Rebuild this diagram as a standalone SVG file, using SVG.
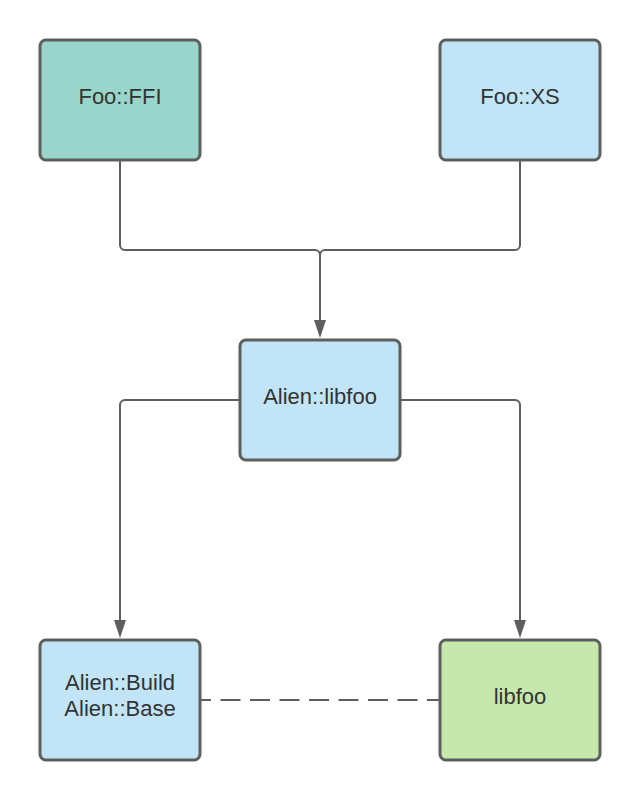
<svg xmlns="http://www.w3.org/2000/svg" width="640" height="800" viewBox="0 0 640 800">
<defs>
<style>
.box{stroke:#5e5e5e;stroke-width:3}
.lbl{font-family:"Liberation Sans",Arial,sans-serif;font-size:22px;fill:#333333;text-anchor:middle}
.ln{fill:none;stroke:#5e5e5e;stroke-width:2}
.ah{fill:#5e5e5e}
</style>
</defs>
<rect width="640" height="800" fill="#ffffff"/>
<g id="connectors">
<path class="ln" d="M120,160 V245 A5,5 0 0 0 125,250 H315 A5,5 0 0 1 320,255"/>
<path class="ln" d="M520,160 V245 A5,5 0 0 1 515,250 H325 A5,5 0 0 0 320,255"/>
<path class="ln" d="M320,255 V322"/>
<polygon class="ah" points="314,320 326,320 320,338"/>
<path class="ln" d="M240,400 H125 A5,5 0 0 0 120,405 V622"/>
<polygon class="ah" points="114,620 126,620 120,638"/>
<path class="ln" d="M400,400 H515 A5,5 0 0 1 520,405 V622"/>
<polygon class="ah" points="514,620 526,620 520,638"/>
<path class="ln" d="M201,700 H439" stroke-dasharray="20 9.5" stroke-dashoffset="10"/>
</g>
<g id="foo-ffi">
<rect class="box" x="40" y="40" width="160" height="120" rx="6" fill="#99d5ca"/>
<text class="lbl" x="120" y="104">Foo::FFI</text>
</g>
<g id="foo-xs">
<rect class="box" x="440" y="40" width="160" height="120" rx="6" fill="#c1e4f7"/>
<text class="lbl" x="520" y="104">Foo::XS</text>
</g>
<g id="alien-libfoo">
<rect class="box" x="240" y="340" width="160" height="120" rx="6" fill="#c1e4f7"/>
<text class="lbl" x="320" y="404">Alien::libfoo</text>
</g>
<g id="alien-build">
<rect class="box" x="40" y="640" width="160" height="120" rx="6" fill="#c1e4f7"/>
<text class="lbl" x="120" y="690">Alien::Build</text>
<text class="lbl" x="120" y="716">Alien::Base</text>
</g>
<g id="libfoo">
<rect class="box" x="440" y="640" width="160" height="120" rx="6" fill="#c7e8ac"/>
<text class="lbl" x="520" y="704">libfoo</text>
</g>
</svg>
